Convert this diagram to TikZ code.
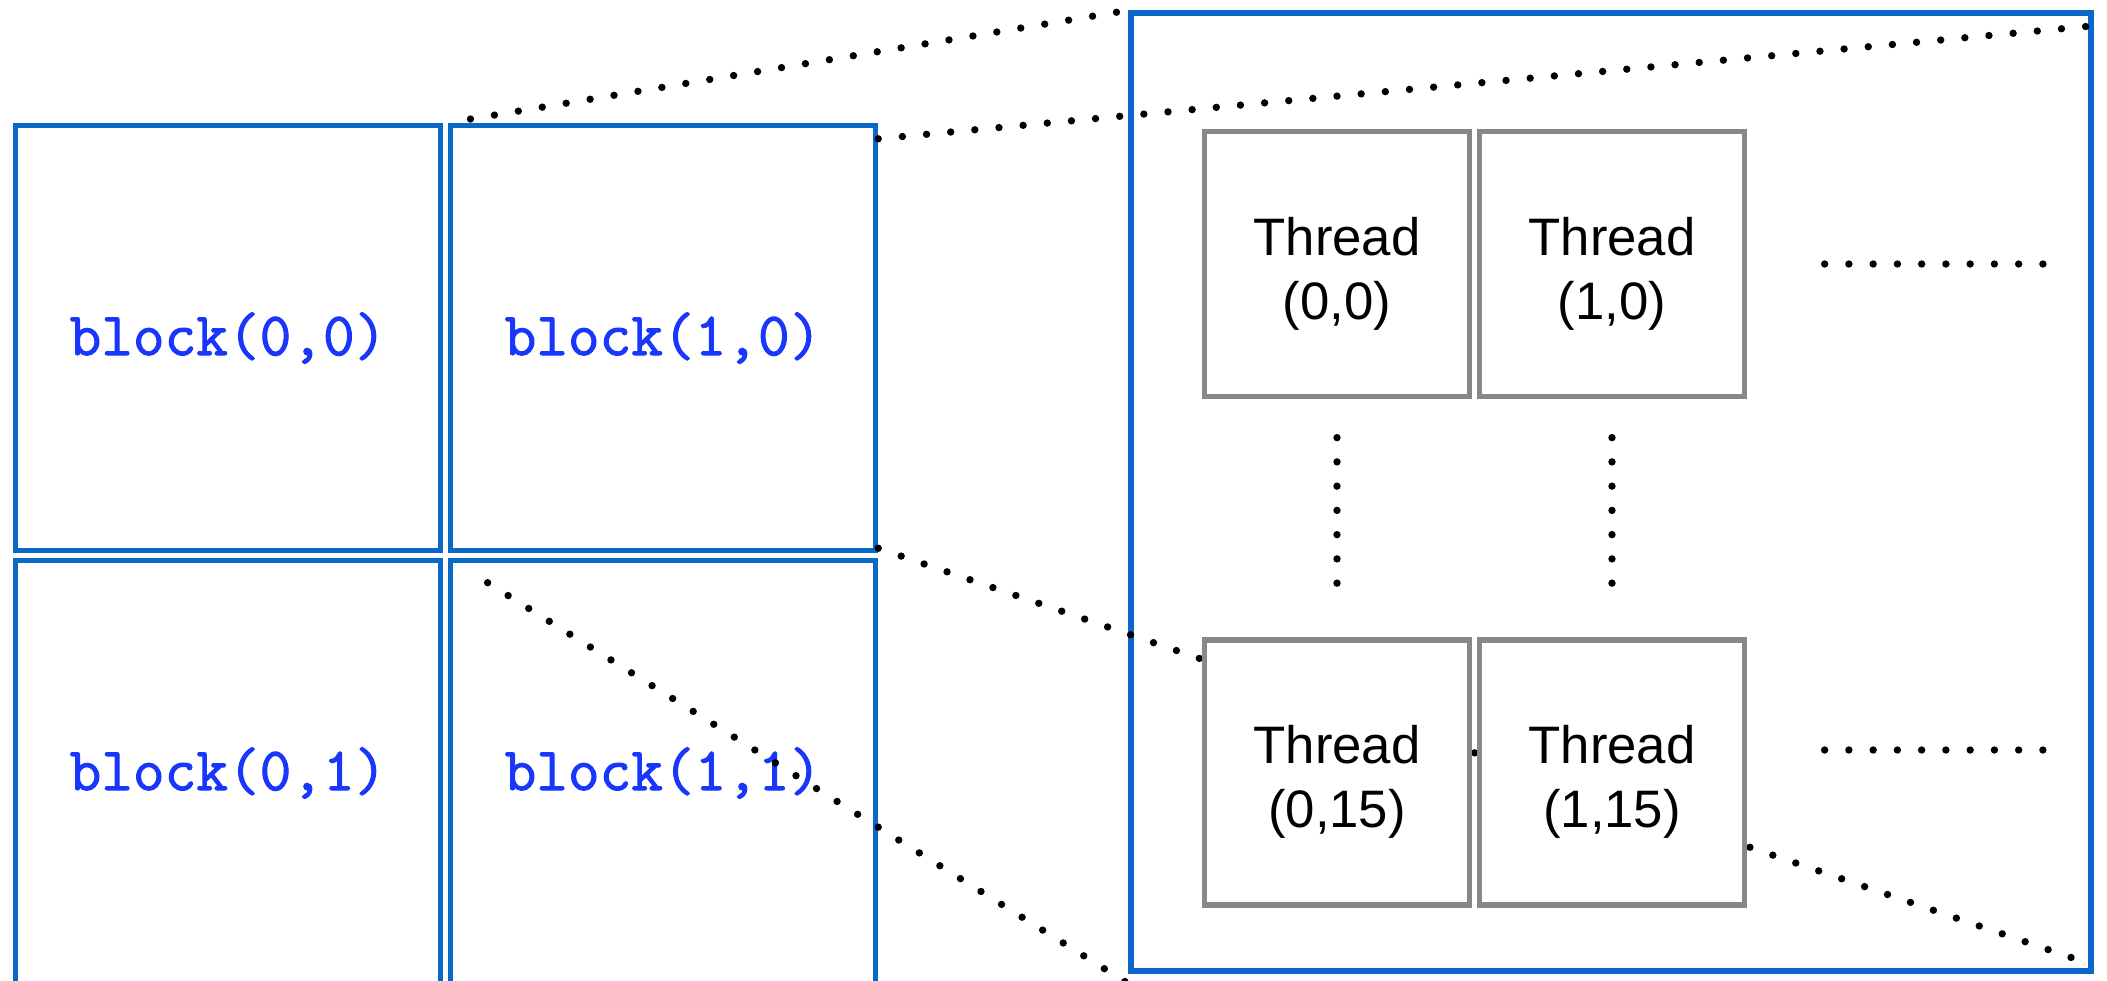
\documentclass[tikz,border=0pt]{standalone}
\usepackage{fontspec}
\newfontfamily\threadfont{Liberation Sans}
\newfontfamily\blockfont{Latin Modern Mono}[FakeBold=1.6]
\definecolor{gridblue}{RGB}{10,104,200}
\definecolor{labelblue}{RGB}{25,55,250}
\definecolor{threadgray}{RGB}{134,136,140}

\begin{document}
\begin{tikzpicture}[
  blockbox/.style={draw=gridblue,line width=1.55pt,minimum width=4.25cm,minimum height=4.25cm,inner sep=0pt,text=labelblue,font=\fontsize{17.5}{20}\selectfont\blockfont},
  gridbox/.style={draw=gridblue,line width=1.55pt,minimum width=9.6cm,minimum height=9.58cm,inner sep=0pt},
  threadbox/.style={draw=threadgray,line width=1.5pt,fill=white,minimum width=2.65cm,minimum height=2.65cm,inner sep=0pt,align=center,text height=34.5pt,font=\fontsize{15}{18.2}\selectfont\threadfont},
  dotline/.style={line width=2.1pt,line cap=round,dash pattern=on 0pt off 6.9pt}
]
\useasboundingbox (0,0) rectangle (21.07,9.80);
\clip (0,0) rectangle (21.07,9.80);
\node[blockbox] (b00) at (2.28,6.42) {block(0,0)};
\node[blockbox] (b10) at (6.63,6.42) {block(1,0)};
\node[blockbox] (b01) at (2.28,2.07) {block(0,1)};
\node[blockbox] (b11) at (6.63,2.07) {block(1,1)};
\node[gridbox] (grid) at (16.11,4.88) {};
\coordinate (dend) at (11.40,-0.11);
\draw[dotline,shorten <=0.23cm] (b10.north west) -- (grid.north west);
\draw[dotline] ([yshift=-0.16cm]b10.north east) -- ([yshift=-0.155cm]grid.north east);
\draw[dotline] ([yshift=0.05cm]b10.south east) -- ([yshift=0.085cm]grid.south east);
\draw[dotline,shorten <=0.47cm] (b11.north west) -- (dend);
\node[threadbox] (t00) at (13.37,7.16) {Thread\\(0,0)};
\node[threadbox] (t10) at (16.12,7.16) {Thread\\(1,0)};
\node[threadbox] (t015) at (13.37,2.075) {Thread\\(0,15)};
\node[threadbox] (t115) at (16.12,2.075) {Thread\\(1,15)};
\draw[dotline,shorten <=0.385cm,shorten >=0.36cm] (t00) -- (t015);
\draw[dotline,shorten <=0.385cm,shorten >=0.36cm] (t10) -- (t115);
\draw[dotline,shorten <=0.775cm,shorten >=0.50cm] (t10.east) -- (t10.east -| grid.east);
\draw[dotline,shorten <=0.775cm,shorten >=0.50cm] ([yshift=0.225cm]t115.east) -- ([yshift=0.225cm]t115.east -| grid.east);
\end{tikzpicture}
\end{document}
